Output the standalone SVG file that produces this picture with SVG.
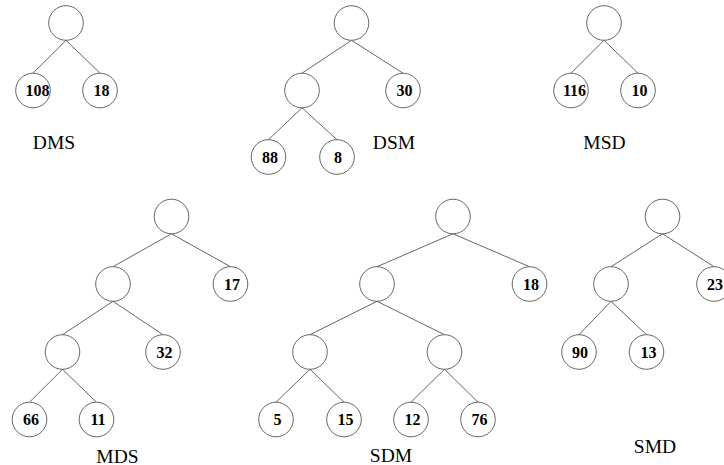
<svg xmlns="http://www.w3.org/2000/svg" width="724" height="465" viewBox="0 0 724 465">
  <style>
    .bg { fill: #ffffff; }
    .node circle { fill: #ffffff; stroke: #555555; stroke-width: 0.9; }
    .node text { font-family: "Liberation Serif", "Times New Roman", serif; font-weight: bold; font-size: 16px; text-anchor: middle; fill: #000000; }
    .edges line { stroke: #555555; stroke-width: 0.9; }
    .caption { font-family: "Liberation Serif", "Times New Roman", serif; font-size: 19.5px; text-anchor: middle; fill: #000000; }
  </style>
  <rect class="bg" x="0" y="0" width="724" height="465"/>

  <!-- edges: parent bottom to child top -->
  <g id="connectors" class="edges">
    <!-- DMS -->
    <line x1="66" y1="40.3" x2="33" y2="73.2"/>
    <line x1="66" y1="40.3" x2="100" y2="73.2"/>
    <!-- DSM -->
    <line x1="351.5" y1="40.3" x2="302" y2="73.2"/>
    <line x1="351.5" y1="40.3" x2="403" y2="73.2"/>
    <line x1="302" y1="107.8" x2="268.5" y2="139.7"/>
    <line x1="302" y1="107.8" x2="337" y2="139.7"/>
    <!-- MSD -->
    <line x1="604" y1="40.3" x2="571" y2="73.2"/>
    <line x1="604" y1="40.3" x2="638" y2="73.2"/>
    <!-- MDS -->
    <line x1="171.5" y1="233.8" x2="113" y2="266.7"/>
    <line x1="171.5" y1="233.8" x2="230.5" y2="266.7"/>
    <line x1="113" y1="301.3" x2="62.5" y2="334.7"/>
    <line x1="113" y1="301.3" x2="163" y2="334.7"/>
    <line x1="62.5" y1="369.3" x2="29.5" y2="402.2"/>
    <line x1="62.5" y1="369.3" x2="96.5" y2="402.2"/>
    <!-- SDM -->
    <line x1="453" y1="233.8" x2="377" y2="266.7"/>
    <line x1="453" y1="233.8" x2="529.5" y2="266.7"/>
    <line x1="377" y1="301.3" x2="310" y2="334.7"/>
    <line x1="377" y1="301.3" x2="444.5" y2="334.7"/>
    <line x1="310" y1="369.3" x2="276" y2="402.2"/>
    <line x1="310" y1="369.3" x2="344" y2="402.2"/>
    <line x1="444.5" y1="369.3" x2="411" y2="402.2"/>
    <line x1="444.5" y1="369.3" x2="478" y2="402.2"/>
    <!-- SMD -->
    <line x1="662.5" y1="233.8" x2="611" y2="266.7"/>
    <line x1="662.5" y1="233.8" x2="714" y2="266.7"/>
    <line x1="611" y1="301.3" x2="579" y2="334.7"/>
    <line x1="611" y1="301.3" x2="646.5" y2="334.7"/>
  </g>

  <!-- DMS tree -->
  <g id="dms-root" class="node"><circle cx="66" cy="23" r="17.3"/></g>
  <g id="dms-108" class="node"><circle cx="33" cy="90.5" r="17.3"/><text x="37.5" y="96">108</text></g>
  <g id="dms-18" class="node"><circle cx="100" cy="90.5" r="17.3"/><text x="101.5" y="96">18</text></g>
  <text id="label-dms" class="caption" x="54" y="148.5">DMS</text>

  <!-- DSM tree -->
  <g id="dsm-root" class="node"><circle cx="351.5" cy="23" r="17.3"/></g>
  <g id="dsm-inner" class="node"><circle cx="302" cy="90.5" r="17.3"/></g>
  <g id="dsm-30" class="node"><circle cx="403" cy="90.5" r="17.3"/><text x="404.5" y="96">30</text></g>
  <g id="dsm-88" class="node"><circle cx="268.5" cy="157" r="17.3"/><text x="270" y="162.5">88</text></g>
  <g id="dsm-8" class="node"><circle cx="337" cy="157" r="17.3"/><text x="338" y="162.5">8</text></g>
  <text id="label-dsm" class="caption" x="394" y="149">DSM</text>

  <!-- MSD tree -->
  <g id="msd-root" class="node"><circle cx="604" cy="23" r="17.3"/></g>
  <g id="msd-116" class="node"><circle cx="571" cy="90.5" r="17.3"/><text x="574.5" y="96">116</text></g>
  <g id="msd-10" class="node"><circle cx="638" cy="90.5" r="17.3"/><text x="639.5" y="96">10</text></g>
  <text id="label-msd" class="caption" x="604.5" y="149">MSD</text>

  <!-- MDS tree -->
  <g id="mds-root" class="node"><circle cx="171.5" cy="216.5" r="17.3"/></g>
  <g id="mds-inner1" class="node"><circle cx="113" cy="284" r="17.3"/></g>
  <g id="mds-17" class="node"><circle cx="230.5" cy="284" r="17.3"/><text x="232" y="289.5">17</text></g>
  <g id="mds-inner2" class="node"><circle cx="62.5" cy="352" r="17.3"/></g>
  <g id="mds-32" class="node"><circle cx="163" cy="352" r="17.3"/><text x="164.5" y="357.5">32</text></g>
  <g id="mds-66" class="node"><circle cx="29.5" cy="419.5" r="17.3"/><text x="31" y="425">66</text></g>
  <g id="mds-11" class="node"><circle cx="96.5" cy="419.5" r="17.3"/><text x="98" y="425">11</text></g>
  <text id="label-mds" class="caption" x="117.5" y="462.5">MDS</text>

  <!-- SDM tree -->
  <g id="sdm-root" class="node"><circle cx="453" cy="216.5" r="17.3"/></g>
  <g id="sdm-inner1" class="node"><circle cx="377" cy="284" r="17.3"/></g>
  <g id="sdm-18" class="node"><circle cx="529.5" cy="284" r="17.3"/><text x="531" y="289.5">18</text></g>
  <g id="sdm-inner2" class="node"><circle cx="310" cy="352" r="17.3"/></g>
  <g id="sdm-inner3" class="node"><circle cx="444.5" cy="352" r="17.3"/></g>
  <g id="sdm-5" class="node"><circle cx="276" cy="419.5" r="17.3"/><text x="277.5" y="425">5</text></g>
  <g id="sdm-15" class="node"><circle cx="344" cy="419.5" r="17.3"/><text x="345.5" y="425">15</text></g>
  <g id="sdm-12" class="node"><circle cx="411" cy="419.5" r="17.3"/><text x="412.5" y="425">12</text></g>
  <g id="sdm-76" class="node"><circle cx="478" cy="419.5" r="17.3"/><text x="479.5" y="425">76</text></g>
  <text id="label-sdm" class="caption" x="391" y="462">SDM</text>

  <!-- SMD tree -->
  <g id="smd-root" class="node"><circle cx="662.5" cy="216.5" r="17.3"/></g>
  <g id="smd-inner" class="node"><circle cx="611" cy="284" r="17.3"/></g>
  <g id="smd-23" class="node"><circle cx="714" cy="284" r="17.3"/><text x="715" y="289.5">23</text></g>
  <g id="smd-90" class="node"><circle cx="579" cy="352" r="17.3"/><text x="580" y="357.5">90</text></g>
  <g id="smd-13" class="node"><circle cx="646.5" cy="352" r="17.3"/><text x="648.5" y="357.5">13</text></g>
  <text id="label-smd" class="caption" x="655" y="453">SMD</text>
</svg>
